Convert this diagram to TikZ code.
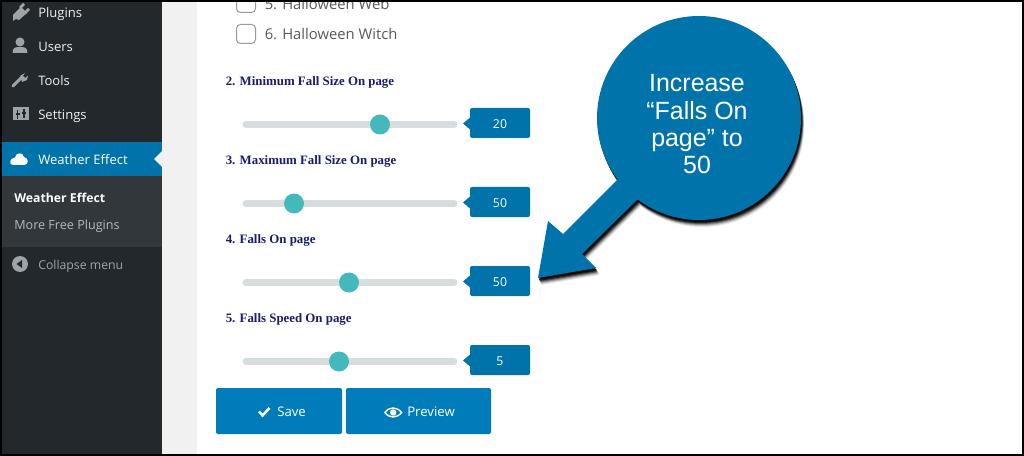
\documentclass[tikz,border=0pt]{standalone}
\usepackage{fontspec}
\setmainfont{Open Sans}
\newfontfamily\serifb{Liberation Serif}
\newfontfamily\calloutf{Liberation Sans}
\definecolor{wpdark}{HTML}{23282D}
\definecolor{wpsub}{HTML}{32373C}
\definecolor{wpblue}{HTML}{0073AA}
\definecolor{btnblue}{HTML}{007CBA}
\definecolor{track}{HTML}{D7DCDF}
\definecolor{knob}{HTML}{43B9BC}
\definecolor{pagebg}{HTML}{F1F1F1}
\definecolor{navy}{HTML}{1A1A6E}
\definecolor{menutxt}{HTML}{EEEEEE}
\definecolor{menuicon}{HTML}{9EA3A8}
\definecolor{subtxt}{HTML}{B4B9BE}
\tikzset{x=0.75pt,y=-0.75pt,
 menu/.style={anchor=west,inner sep=0,text=menutxt,font=\fontsize{9.8pt}{11pt}\selectfont},
 sublabel/.style={anchor=west,inner sep=0,font=\serifb\bfseries\fontsize{9.65pt}{10pt}\selectfont,text=navy},
 checktxt/.style={anchor=west,inner sep=0,text=black!65,font=\fontsize{11.1pt}{13pt}\selectfont},
 chk/.style={draw=black!40,line width=0.75pt,fill=white,rounded corners=3pt},
 tracksty/.style={line width=5.2pt,color=track,line cap=round},
 knobsty/.style={circle,fill=knob,inner sep=0,minimum size=15pt},
 valbox/.style={fill=wpblue,rounded corners=1.5pt},
 valtxt/.style={text=white,inner sep=0,font=\fontsize{9.2pt}{11pt}\selectfont},
 btn/.style={fill=btnblue,rounded corners=1.5pt},
 btntxt/.style={text=white,inner sep=0,anchor=west,font=\fontsize{9.9pt}{11pt}\selectfont},
 circpath/.style={insert path={(699,118) circle[radius=76.5pt]}},
 arrowpath/.style={insert path={(625,172) -- (617,180) -- (563,234) -- (548,221) -- (538,278) -- (596,268) -- (582,254) -- (637,200) -- (645,192) -- cycle}},
}
\begin{document}
\begin{tikzpicture}
\useasboundingbox (0,0) rectangle (1024,456);
\fill[white] (0,0) rectangle (1024,456);
% page background and sidebar
\fill[pagebg] (162,0) rectangle (197,456);
\fill[wpdark] (0,0) rectangle (162,456);
\fill[wpsub] (0,176) rectangle (162,247);
\fill[wpblue] (0,142) rectangle (162,176);
\fill[pagebg] (162,151) -- (154,159) -- (162,167) -- cycle;
% menu labels
\node[menu] (plugins) at (38,14) {Plugins};
\node[menu] (users) at (38,47) {Users};
\node[menu] (tools) at (38,81) {Tools};
\node[menu] (settings) at (38,116) {Settings};
\node[menu,text=white] (weather) at (38,160) {Weather Effect};
\node[menu,text=white,font=\bfseries\fontsize{9.2pt}{11pt}\selectfont] (subweather) at (14,198) {Weather Effect};
\node[menu,text=subtxt,font=\fontsize{9.45pt}{11pt}\selectfont] (morefree) at (14,226.5) {More Free Plugins};
\node[menu,text=menuicon,font=\fontsize{9.2pt}{11pt}\selectfont] (collapse) at (38,266.5) {Collapse menu};
% menu icons
\fill[menuicon] (13,15) -- (21,7) -- (27,13) -- (19,20) -- (16,19) -- (13,21) -- cycle;
\fill[menuicon] (19,7) -- (23,3) -- (25,5) -- (21,9) -- cycle (24,12) -- (28,8) -- (30,10) -- (26,14) -- cycle;
\fill[menuicon] (20,42) circle[radius=3.4pt] (12.5,53) .. controls (12.5,47) and (16,47) .. (20,47) .. controls (24,47) and (27.5,47) .. (27.5,53) -- cycle;
\draw[menuicon,line width=2.2pt,line cap=round] (13,86) -- (21,78);
\fill[menuicon] (20,76) -- (25,73) -- (23,76) -- (25.5,78) -- (28,75.5) -- (27,80) -- (22,82) -- cycle;
\fill[menuicon] (12.5,107.5) rectangle (28.5,120.5);
\draw[wpdark,line width=0.9pt] (17.5,110) -- (17.5,119) (24,109) -- (24,118) (15.5,114) -- (19.5,114) (22,113) -- (26,113);
\fill[white] (13,165) -- (24,165) .. controls (29,165) and (29,158) .. (24,157) .. controls (23,152) and (16,152) .. (15,157.5) .. controls (9,158) and (9,165) .. (13,165) -- cycle;
\fill[menuicon] (20,264) circle[radius=6pt];
\fill[wpdark] (16.5,264) -- (22,260) -- (22,268) -- cycle;
% checkboxes
\draw[chk] (236.5,-6.5) rectangle (255.5,12.5);
\node[checktxt] (web) at (264.5,4) {5. Halloween Web};
\draw[chk] (236.5,24.5) rectangle (255.5,43.5);
\node[checktxt] (witch) at (264.5,33.5) {6. Halloween Witch};
% labels
\node[sublabel] (l2) at (225.5,82.5) {2. Minimum Fall Size On page};
\node[sublabel] (l3) at (225.5,161.5) {3. Maximum Fall Size On page};
\node[sublabel] (l4) at (225.5,240.5) {4. Falls On page};
\node[sublabel] (l5) at (225.5,319.5) {5. Falls Speed On page};
% sliders
\foreach \ny/\kx/\val/\nm in {124.5/380/20/a,203.5/294/50/b,282.5/349/50/c,361.5/339/5/d}{
 \draw[tracksty] (246,\ny) -- (454,\ny);
 \node[knobsty] (knob\nm) at (\kx,\ny) {};
 \fill[valbox] (470,\ny-16.5) rectangle (530,\ny+13.5);
 \fill[wpblue] (470,\ny-7) -- (463,\ny-1) -- (470,\ny+5) -- cycle;
 \node[valtxt] (val\nm) at (500,\ny-0.5) {\val};
}
% buttons
\fill[btn] (216,388) rectangle (342,434);
\fill[btn] (346,388) rectangle (491,434);
\draw[white,line width=1.9pt] (259,411.5) -- (262.5,415.5) -- (269.5,408);
\node[btntxt] (save) at (277,411.5) {Save};
\node[btntxt] (preview) at (407,411.5) {Preview};
\draw[white,line width=1.1pt] (385,412.5) .. controls (389,406.5) and (397,406.5) .. (401.5,412.5) .. controls (397,418.5) and (389,418.5) .. (385,412.5) -- cycle;
\fill[white] (393.2,412.5) circle[radius=2.4pt];
% callout shadow
\foreach \o/\op in {7/0.1,6/0.15,5/0.25,4/0.4,3/0.6,2/0.7}{
 \begin{scope}[transparency group,opacity=\op,shift={(\o*0.35pt,-\o*0.75pt)}]
  \fill[black,circpath];
  \fill[black,arrowpath];
 \end{scope}
}
\fill[wpblue,circpath];
\fill[wpblue,arrowpath];
\node[text=white,align=center,inner sep=0,font=\calloutf\fontsize{18.7pt}{20.5pt}\selectfont] (callout) at (697,124.5) {Increase\\“Falls On\\page” to\\50};
% frame
\fill[black] (0,0) rectangle (1024,2);
\fill[black] (0,0) rectangle (2,456);
\fill[black] (0,454) rectangle (1024,456);
\fill[black] (1022,0) rectangle (1024,456);
\end{tikzpicture}
\end{document}
